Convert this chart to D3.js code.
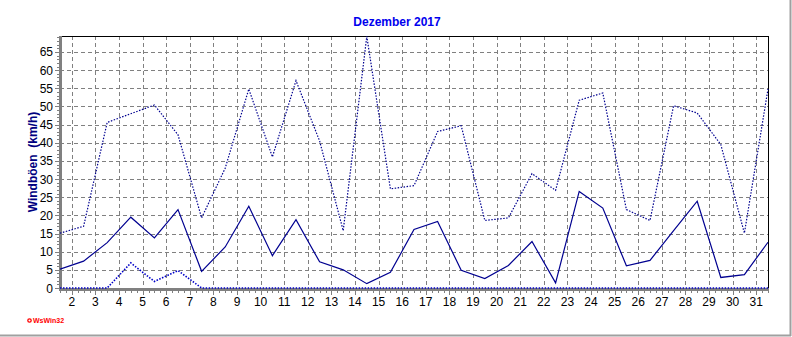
<!DOCTYPE html>
<html><head><meta charset="utf-8">
<script src="https://cdn.jsdelivr.net/npm/d3@7"></script>
<style>body{margin:0;background:#fff}svg{display:block}</style>
</head><body>
<svg id="c" width="792" height="337"></svg>
<script>
const days = d3.range(1, 32);
const tickLabels = d3.range(2, 32);
const gustMax = [15.1, 17.0, 45.6, 48.0, 50.4, 42.2, 19.3, 33.0, 54.8, 36.1, 57.1, 40.5, 15.8, 69.3, 27.3, 28.2, 43.1, 44.7, 18.6, 19.3, 31.5, 26.9, 51.7, 53.7, 21.6, 18.6, 50.2, 48.2, 39.5, 15.1, 54.8];
const gustMean = [5.2, 7.4, 12.5, 19.5, 13.8, 21.6, 4.6, 11.3, 22.5, 8.9, 18.8, 7.2, 5.0, 1.2, 4.3, 16.1, 18.3, 4.9, 2.6, 6.2, 12.8, 1.4, 26.6, 22.0, 6.1, 7.6, 15.8, 23.9, 2.9, 3.7, 12.6];
const gustMin = [0, 0, 0, 6.9, 1.8, 4.8, 0, 0, 0, 0, 0, 0, 0, 0, 0, 0, 0, 0, 0, 0, 0, 0, 0, 0, 0, 0, 0, 0, 0, 0, 0];
const yTicks = d3.range(0, 70, 5);
const title = "Dezember 2017";
const yTitle = "Windböen  (km/h)";

const svg = d3.select("#c");
const L = 60, R = 768, T = 36, B = 288;
const x = d3.scaleLinear().domain([0, 30]).range([L, R]);
const y = d3.scaleLinear().domain([0, 69.4]).range([B, T]);
const font = "'Liberation Sans', Arial, sans-serif";

// outer border
svg.append("line").attr("x1", 790.5).attr("x2", 790.5).attr("y1", 0).attr("y2", 336).attr("stroke", "#a0a0a0").attr("stroke-width", 2);
svg.append("line").attr("x1", 0).attr("x2", 791).attr("y1", 335.5).attr("y2", 335.5).attr("stroke", "#a0a0a0").attr("stroke-width", 2);

// grid
const g = svg.append("g");
g.selectAll("line.hy").data(yTicks.filter(v => v > 0)).join("line")
  .attr("x1", L).attr("x2", R)
  .attr("y1", d => Math.round(y(d)) + 0.5).attr("y2", d => Math.round(y(d)) + 0.5)
  .attr("stroke", "#808080").attr("stroke-dasharray", "4,3");
g.selectAll("line.vx").data(tickLabels).join("line")
  .attr("x1", d => Math.round(x(d - 1.5)) + 0.5).attr("x2", d => Math.round(x(d - 1.5)) + 0.5)
  .attr("y1", T).attr("y2", B)
  .attr("stroke", "#808080").attr("stroke-dasharray", "4,3");

// frame top/right
svg.append("line").attr("x1", L).attr("x2", R + 1).attr("y1", T + 0.5).attr("y2", T + 0.5).attr("stroke", "#000");
svg.append("line").attr("x1", R + 0.5).attr("x2", R + 0.5).attr("y1", T).attr("y2", B).attr("stroke", "#000");

// axes bars
svg.append("rect").attr("x", L - 1).attr("y", T).attr("width", 3).attr("height", B - T + 3).attr("fill", "#808080");
svg.append("rect").attr("x", L - 1).attr("y", B).attr("width", R - L + 2).attr("height", 3).attr("fill", "#808080");

// y ticks
const yMinor = d3.range(0, 70, 1);
svg.selectAll("line.ym").data(yMinor).join("line")
  .attr("x1", d => d % 5 === 0 ? 55 : 57).attr("x2", L - 1)
  .attr("y1", d => Math.round(y(d)) + 0.5).attr("y2", d => Math.round(y(d)) + 0.5)
  .attr("stroke", "#808080");
svg.selectAll("text.yl").data(yTicks).join("text")
  .attr("x", 53).attr("y", d => y(d) + 4.5).attr("text-anchor", "end")
  .attr("font-family", font).attr("font-size", 12).attr("fill", "#000").text(d => d);

// x ticks
const xMinor = d3.range(0, 120.5, 1).map(k => k / 4);
svg.selectAll("line.xm").data(xMinor).join("line")
  .attr("x1", d => Math.round(x(d)) + 0.5).attr("x2", d => Math.round(x(d)) + 0.5)
  .attr("y1", B + 3).attr("y2", d => ((d * 4) % 4 === 2) ? B + 7 : B + 5)
  .attr("stroke", "#808080");
svg.selectAll("text.xl").data(tickLabels).join("text")
  .attr("x", d => x(d - 1.5)).attr("y", 306).attr("text-anchor", "middle")
  .attr("font-family", font).attr("font-size", 12).attr("fill", "#000").text(d => d);

// series
const line = d3.line().x((d, i) => x(i)).y(d => y(d));
svg.append("clipPath").attr("id", "pc").append("rect").attr("x", L).attr("y", T - 1).attr("width", R - L + 1).attr("height", B - T + 3);
const s = svg.append("g").attr("clip-path", "url(#pc)");
s.append("path").datum(gustMin).attr("d", line).attr("fill", "none").attr("stroke", "#0000c8").attr("stroke-width", 1.6).attr("stroke-dasharray", "1.5,1.5");
s.append("path").datum(gustMax).attr("d", line).attr("fill", "none").attr("stroke", "#000090").attr("stroke-width", 1.2).attr("stroke-dasharray", "1.5,1.5");
s.append("path").datum(gustMean).attr("d", line).attr("fill", "none").attr("stroke", "#000090").attr("stroke-width", 1.2);

// titles
svg.append("text").attr("x", 397).attr("y", 26).attr("text-anchor", "middle")
  .attr("font-family", font).attr("font-weight", "bold").attr("font-size", 12).attr("fill", "#0000ee").text(title);
svg.append("text").attr("transform", "translate(37,162) rotate(-90)").attr("text-anchor", "middle")
  .attr("xml:space", "preserve").style("white-space", "pre")
  .attr("font-family", font).attr("font-weight", "bold").attr("font-size", 12).attr("fill", "#000080").text(yTitle);

// logo
svg.append("circle").attr("cx", 29.5).attr("cy", 320.5).attr("r", 1.7).attr("fill", "none").attr("stroke", "#ff0000").attr("stroke-width", 1.3);
svg.append("text").attr("x", 33).attr("y", 323).attr("font-family", font).attr("font-weight", "bold").attr("font-size", 7).attr("fill", "#ff0000").text("WsWin32");
</script>
</body></html>
